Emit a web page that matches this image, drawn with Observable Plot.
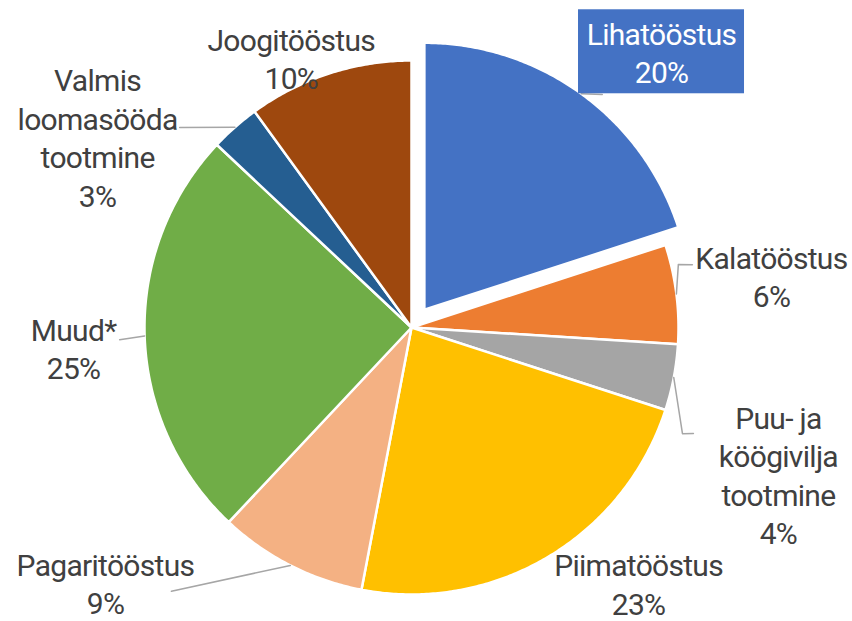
<!DOCTYPE html>
<html>
<head>
<meta charset="utf-8">
<script src="https://cdn.jsdelivr.net/npm/d3@7"></script>
<script src="https://cdn.jsdelivr.net/npm/@observablehq/plot@0.6"></script>
<style>
  html, body { margin: 0; padding: 0; background: #ffffff; }
  #chart svg text { letter-spacing: -0.7px; }
</style>
</head>
<body>
<div id="chart"></div>
<script>
// ---- data ----
const categories = ["Lihatööstus", "Kalatööstus", "Puu- ja köögivilja tootmine", "Piimatööstus",
  "Pagaritööstus", "Muud*", "Valmis loomasööda tootmine", "Joogitööstus"];
const shares = [20, 6, 4, 23, 9, 25, 3, 10];
const labelTexts = ["Lihatööstus", "Kalatööstus", "Puu- ja\nköögivilja\ntootmine", "Piimatööstus",
  "Pagaritööstus", "Muud*", "Valmis\nloomasööda\ntootmine", "Joogitööstus"];

// ---- styles / layout ----
const colors = ["#4472C4", "#ED7D31", "#A5A5A5", "#FFC000", "#F4B183", "#70AD47", "#255E91", "#9E480E"];
const explode = [0.082, 0, 0, 0, 0, 0, 0, 0];
// label centre in polar form (degrees clockwise from 12 o'clock, radius in pie radii)
const labelAngle = [42.2, 81.8, 111.8, 138.4, 230.2, 266.6, 301.3, 336];
const labelRadius = [1.394, 1.362, 1.480, 1.281, 1.492, 1.268, 1.376, 1.107];
// leader-line waypoints after the slice edge (polar)
const leaderPoints = [
  [[39.3, 1.128]],
  [[76.7, 1.027], [77.4, 1.078]],
  [[111.4, 1.090], [110.6, 1.128]],
  [],
  [[222.3, 1.336]],
  [[267.6, 1.094]],
  [[310.8, 1.147]],
  []
];
const W = 852, H = 621, CX = 411, CY = 327, R = 267;
const boxW = 166, boxH = 84;

const polar = (deg, r) => {
  const a = deg * Math.PI / 180;
  return [r * Math.sin(a), r * Math.cos(a)];
};

// ---- build slice polygons ----
const total = d3.sum(shares);
const slicePts = [];
const leaders = [];
const labels = [];
let acc = 0;
categories.forEach((c, i) => {
  const a0 = acc / total * 360;
  const a1 = (acc + shares[i]) / total * 360;
  acc += shares[i];
  const mid = (a0 + a1) / 2;
  const [ox, oy] = polar(mid, explode[i]);
  slicePts.push({cat: c, x: ox, y: oy});
  const n = Math.max(2, Math.ceil((a1 - a0) / 0.5));
  for (let k = 0; k <= n; k++) {
    const [px, py] = polar(a0 + (a1 - a0) * k / n, 1);
    slicePts.push({cat: c, x: ox + px, y: oy + py});
  }
  slicePts.push({cat: c, x: ox, y: oy});
  if (leaderPoints[i].length) {
    const [sx, sy] = polar(mid, 1 + explode[i]);
    leaders.push({cat: c, x: sx, y: sy});
    leaderPoints[i].forEach(([ang, rr]) => {
      const [lx, ly] = polar(ang, rr);
      leaders.push({cat: c, x: lx, y: ly});
    });
  }
  const [tx, ty] = polar(labelAngle[i], labelRadius[i]);
  labels.push({cat: c, x: tx, y: ty, text: labelTexts[i] + "\n" + shares[i] + "%", boxed: i === 0});
});

const boxes = labels.filter(d => d.boxed).map(d => ({
  x1: d.x - boxW / 2 / R, x2: d.x + boxW / 2 / R,
  y1: d.y - boxH / 2 / R, y2: d.y + boxH / 2 / R, cat: d.cat
}));

const chart = Plot.plot({
  width: W, height: H,
  margin: 0,
  x: {domain: [-CX / R, (W - CX) / R], range: [0, W], axis: null},
  y: {domain: [-(H - CY) / R, CY / R], range: [H, 0], axis: null},
  color: {domain: categories, range: colors},
  style: {fontFamily: "Roboto, 'Open Sans', sans-serif", background: "#ffffff"},
  marks: [
    Plot.line(slicePts, {x: "x", y: "y", z: "cat", fill: "cat", stroke: "#ffffff", strokeWidth: 2.5, strokeLinejoin: "round"}),
    Plot.line(leaders, {x: "x", y: "y", z: "cat", stroke: "#A6A6A6", strokeWidth: 1.5}),
    Plot.rect(boxes, {x1: "x1", x2: "x2", y1: "y1", y2: "y2", fill: "cat"}),
    Plot.text(labels, {x: "x", y: "y", text: "text", fontSize: 30, lineHeight: 1.28,
      textAnchor: "middle", lineAnchor: "middle", fill: d => d.boxed ? "#ffffff" : "#404040"})
  ]
});
document.getElementById("chart").appendChild(chart);
</script>
</body>
</html>
